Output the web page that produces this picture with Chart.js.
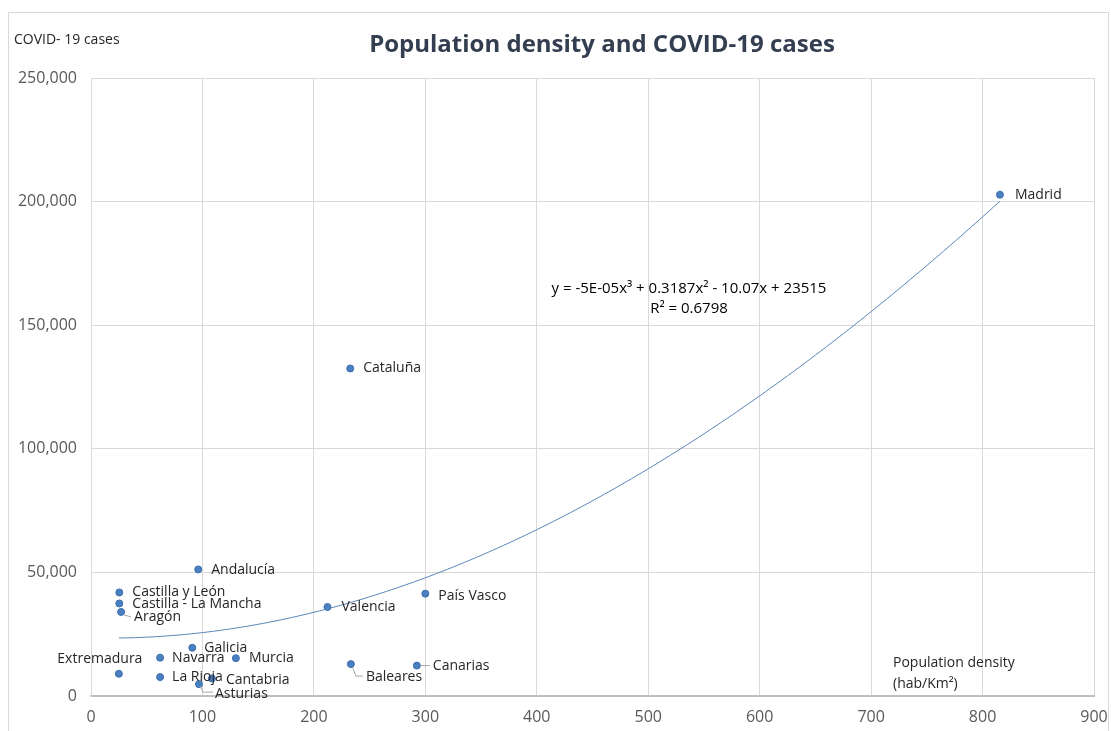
<!DOCTYPE html>
<html>
<head>
<meta charset="utf-8">
<script src="https://cdn.jsdelivr.net/npm/chart.js@4/dist/chart.umd.min.js"></script>
<style>
  html, body { margin: 0; padding: 0; background: #fff; }
</style>
</head>
<body>
<canvas id="chart" width="1111" height="731"></canvas>
<script>
// data
const regions = ["Madrid", "Cataluña", "Andalucía", "Castilla y León", "Castilla - La Mancha", "Aragón",
  "Galicia", "Extremadura", "Navarra", "Murcia", "La Rioja", "Asturias", "Cantabria",
  "Valencia", "País Vasco", "Baleares", "Canarias"];
const density = [815.6, 232.6, 96.2, 25.4, 25.4, 27, 90.9, 25, 62, 130, 62, 96.9, 108.5, 212.2, 300, 233.2, 292.4];
const cases = [202800, 132500, 51200, 41900, 37450, 34000, 19500, 9000, 15500, 15300, 7650, 4800, 7100, 36000, 41400, 12900, 12300];

// trend line as shown on the chart: y = -5E-05x³ + 0.3187x² - 10.07x + 23515
const trendCoef = [-5e-5, 0.3187, -10.07, 23515];
const trendFrom = 25, trendTo = 815.6;

const xTicks = [0, 100, 200, 300, 400, 500, 600, 700, 800, 900];
const yMax = 250000;

// label placement: [dx, dy, textAlign, leader]
const labelPos = {
  "Madrid": [15, 0, "left"],
  "Cataluña": [13, 0, "left"],
  "Andalucía": [13, 1, "left"],
  "Castilla y León": [13, 0, "left"],
  "Castilla - La Mancha": [13, 1, "left"],
  "Aragón": [13, 5, "left", [[3, 3], [10, 5]]],
  "Galicia": [12, 0, "left"],
  "Extremadura": [-19, -15, "center"],
  "Navarra": [12, 0, "left"],
  "Murcia": [13, 0, "left"],
  "La Rioja": [12, 0, "left"],
  "Asturias": [16, 10, "left", [[1, 2], [4, 8], [14, 8]]],
  "Cantabria": [14, 2, "left"],
  "Valencia": [14, 0, "left"],
  "País Vasco": [13, 2, "left"],
  "Baleares": [15, 13, "left", [[2, 4], [5, 12], [12, 12]]],
  "Canarias": [16, 0, "left", [[4, 0], [13, 0]]]
};

const trendX = [];
for (let x = trendFrom; x <= trendTo; x += 5) trendX.push(x);
trendX.push(trendTo);
const trendPts = trendX.map(x => ({
  x: x,
  y: trendCoef[0] * x * x * x + trendCoef[1] * x * x + trendCoef[2] * x + trendCoef[3]
}));

const FONT = "'Open Sans', 'Noto Sans', sans-serif";

const extras = {
  id: "extras",
  beforeDraw(chart) {
    const c = chart.ctx;
    c.save();
    c.fillStyle = "#fff";
    c.fillRect(0, 0, chart.width, chart.height);
    c.strokeStyle = "#D9D9D9";
    c.lineWidth = 1;
    c.strokeRect(8.5, 12.5, 1100, 740);
    c.restore();
  },
  afterDatasetsDraw(chart) {
    const c = chart.ctx;
    const meta = chart.getDatasetMeta(1);
    c.save();
    c.font = "14px " + FONT;
    c.textBaseline = "middle";
    regions.forEach((name, i) => {
      const p = meta.data[i];
      const pos = labelPos[name];
      if (pos[3]) {
        c.strokeStyle = "#A6A6A6";
        c.lineWidth = 1;
        c.beginPath();
        pos[3].forEach((q, k) => {
          if (k === 0) c.moveTo(p.x + q[0], p.y + q[1]);
          else c.lineTo(p.x + q[0], p.y + q[1]);
        });
        c.stroke();
      }
      c.fillStyle = "#262626";
      c.textAlign = pos[2];
      c.fillText(name, p.x + pos[0], p.y + pos[1]);
    });

    // title
    c.textAlign = "center";
    c.fillStyle = "#333F50";
    c.font = "bold 24px " + FONT;
    c.fillText("Population density and COVID-19 cases", 602, 45);

    // axis titles
    c.fillStyle = "#262626";
    c.textAlign = "left";
    c.font = "14px " + FONT;
    c.fillText("COVID- 19 cases", 14, 40);
    c.fillText("Population density", 893, 663);
    c.fillText("(hab/Km²)", 893, 684);

    // trend equation
    c.textAlign = "center";
    c.font = "15px " + FONT;
    c.fillStyle = "#000";
    c.fillText("y = -5E-05x³ + 0.3187x² - 10.07x + 23515", 689, 289);
    c.fillText("R² = 0.6798", 689, 309);
    c.restore();
  }
};

new Chart(document.getElementById("chart"), {
  type: "scatter",
  data: {
    datasets: [
      {
        label: "trend",
        data: trendPts,
        showLine: true,
        borderColor: "#5B86BA",
        borderWidth: 1,
        pointRadius: 0,
        tension: 0
      },
      {
        label: "regions",
        data: regions.map((r, i) => ({ x: density[i], y: cases[i] })),
        backgroundColor: "#4A7FC1",
        borderColor: "#3D70AE",
        borderWidth: 1,
        pointRadius: 3.5
      }
    ]
  },
  options: {
    responsive: false,
    devicePixelRatio: 1,
    animation: false,
    layout: { padding: { top: 78, left: 8, right: 17, bottom: 0 } },
    plugins: {
      legend: { display: false },
      tooltip: { enabled: false }
    },
    scales: {
      x: {
        type: "linear",
        min: 0,
        max: 900,
        afterBuildTicks: s => { s.ticks = xTicks.map(v => ({ value: v })); },
        afterFit: s => { s.height = 35; s.paddingLeft = 0; s.paddingRight = 0; },
        grid: { color: "#D9D9D9", drawTicks: false },
        border: { color: "#BFBFBF", width: 2 },
        ticks: { padding: 12, color: "#595959", font: { size: 16, family: FONT } }
      },
      y: {
        min: 0,
        max: yMax,
        afterFit: s => { s.width = 83; s.paddingTop = 0; s.paddingBottom = 0; },
        grid: { color: "#D9D9D9", drawTicks: false },
        border: { color: "#D9D9D9" },
        ticks: {
          stepSize: 50000,
          padding: 14,
          color: "#595959",
          font: { size: 16, family: FONT },
          callback: v => v.toLocaleString("en-US")
        }
      }
    }
  },
  plugins: [extras]
});
</script>
</body>
</html>
